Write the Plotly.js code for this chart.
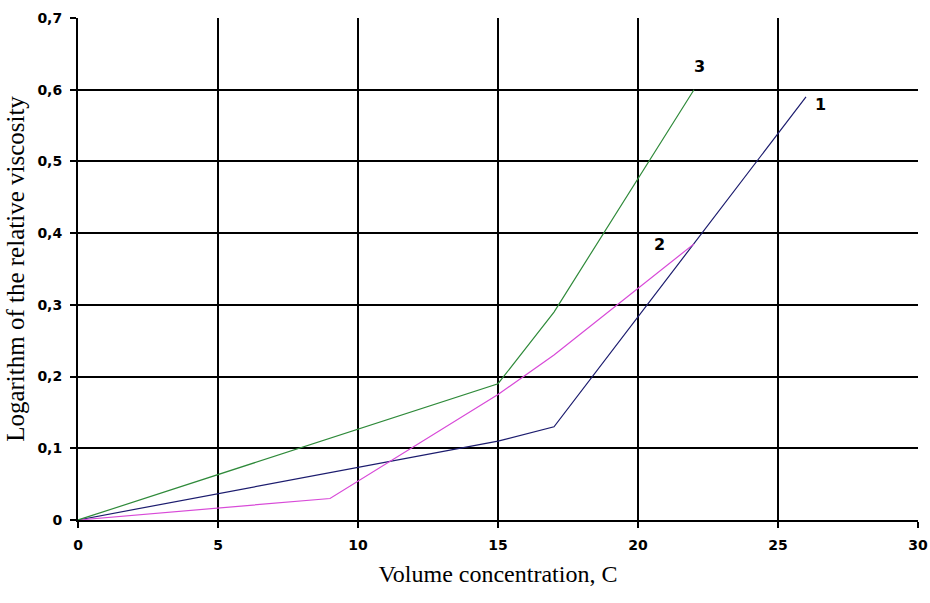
<!DOCTYPE html>
<html>
<head>
<meta charset="utf-8">
<script src="https://cdn.plot.ly/plotly-3.0.1.min.js"></script>
<style>html,body{margin:0;padding:0;background:#fff;}#chart{width:930px;height:603px;}</style>
</head>
<body>
<div id="chart"></div>
<script>
// Curve 1
const x1 = [0, 15, 17, 26];
const y1 = [0, 0.11, 0.13, 0.59];
// Curve 2
const x2 = [0, 9, 15, 17, 22];
const y2 = [0, 0.03, 0.175, 0.23, 0.385];
// Curve 3
const x3 = [0, 15, 17, 22];
const y3 = [0, 0.19, 0.29, 0.6];

const curveLabels = ["1", "2", "3"];
const labelX = [26.5, 20.75, 22.2];
const labelY = [0.579, 0.384, 0.632];

const xTickVals = [0, 5, 10, 15, 20, 25, 30];
const xTickText = ["0", "5", "10", "15", "20", "25", "30"];
const yTickVals = [0, 0.1, 0.2, 0.3, 0.4, 0.5, 0.6, 0.7];
const yTickText = ["0", "0,1", "0,2", "0,3", "0,4", "0,5", "0,6", "0,7"];

const colors = ["#1c1c6e", "#d84ad8", "#2f8a3a"];

const traces = [
  {x: x1, y: y1, mode: "lines", line: {color: colors[0], width: 1.2}, hoverinfo: "none"},
  {x: x2, y: y2, mode: "lines", line: {color: colors[1], width: 1.2}, hoverinfo: "none"},
  {x: x3, y: y3, mode: "lines", line: {color: colors[2], width: 1.2}, hoverinfo: "none"}
];

const annotations = curveLabels.map((t, i) => ({
  x: labelX[i], y: labelY[i], xref: "x", yref: "y", text: t, showarrow: false,
  font: {family: "DejaVu Sans, sans-serif", size: 16, color: "#000", weight: "bold"}
}));

const tickFont = {family: "DejaVu Sans, sans-serif", size: 14, color: "#000", weight: "bold"};

const layout = {
  width: 930, height: 603,
  margin: {l: 78, r: 12, t: 18, b: 83},
  paper_bgcolor: "#fff", plot_bgcolor: "#fff",
  showlegend: false,
  xaxis: {
    range: [0, 30], tickvals: xTickVals, ticktext: xTickText,
    showgrid: true, gridcolor: "#000", gridwidth: 2,
    showline: true, linecolor: "#000", linewidth: 2,
    ticks: "outside", ticklen: 6, tickcolor: "#000", tickwidth: 2,
    ticklabelstandoff: 5,
    tickfont: tickFont, zeroline: false,
    title: {text: "Volume concentration, C", font: {family: "Liberation Serif, Times New Roman, serif", size: 24, color: "#000"}, standoff: 13}
  },
  yaxis: {
    range: [0, 0.7], tickvals: yTickVals, ticktext: yTickText,
    showgrid: true, gridcolor: "#000", gridwidth: 2,
    showline: true, linecolor: "#000", linewidth: 2,
    ticks: "outside", ticklen: 6, tickcolor: "#000", tickwidth: 2,
    ticklabelstandoff: 5,
    tickfont: tickFont, zeroline: false,
    title: {text: "Logarithm of the relative viscosity", font: {family: "Liberation Serif, Times New Roman, serif", size: 25, color: "#000"}, standoff: 6}
  },
  annotations: annotations
};

Plotly.newPlot("chart", traces, layout, {displayModeBar: false, staticPlot: true});
</script>
</body>
</html>
